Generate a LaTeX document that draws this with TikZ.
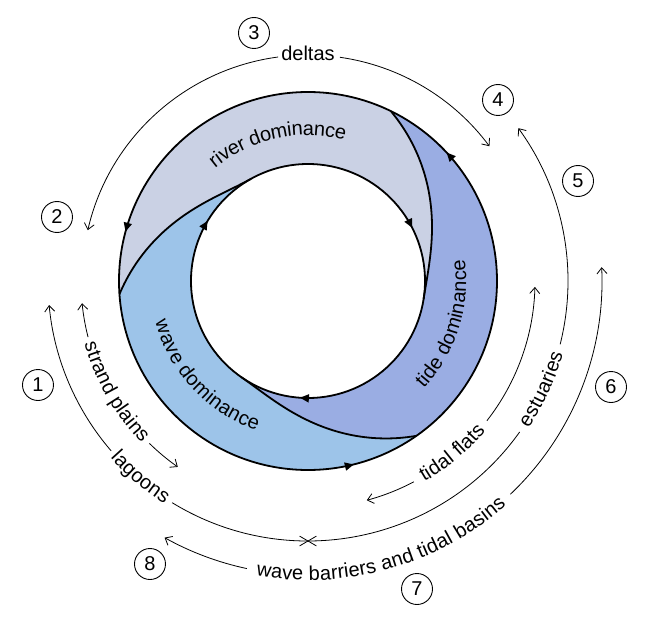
\documentclass[tikz,border=0pt]{standalone}
\usepackage{fontspec}
\setmainfont{Liberation Sans}
\usetikzlibrary{arrows.meta,decorations.text,decorations.markings,shapes.misc}
\definecolor{riverc}{HTML}{CAD1E4}
\definecolor{tidec}{HTML}{9AADE3}
\definecolor{wavec}{HTML}{9DC4E9}
\tikzset{
  ringline/.style={line width=1.8pt, line join=round},
  thinarc/.style={line width=0.8pt},
  barbend/.style={-{Straight Barb[length=6pt,width=10pt,line width=0.8pt]}},
  numcirc/.style={circle, draw, line width=0.9pt, minimum size=31pt, inner sep=0pt},
  ccwlabel/.style={decorate, decoration={text along path, text={#1}, text align=center, raise=-5.2pt}},
  fillarrow/.style={-{Triangle[length=9pt,width=8pt]}}
}
\begin{document}
\fontsize{20}{24}\selectfont
\begin{tikzpicture}[x=1pt,y=1pt]
\useasboundingbox (-308,-343) rectangle (342,281);
% ---------- filled regions ----------
\fill[riverc] (64:189) arc[start angle=64,end angle=184,radius=189]
  -- plot[variable=\t,domain=0:1,samples=60,smooth] ({184-65*\t}:{117+72*(1-\t)^2*(1+0.5*\t)})
  arc[start angle=119,end angle=-9,radius=117]
  -- plot[variable=\t,domain=0:1,samples=60,smooth] ({-9+73*\t}:{117+72*\t^2*(1.5-0.5*\t)})
  -- cycle;
\fill[tidec] (-55:189) arc[start angle=-55,end angle=64,radius=189]
  -- plot[variable=\t,domain=0:1,samples=60,smooth] ({64-73*\t}:{117+72*(1-\t)^2*(1+0.5*\t)})
  arc[start angle=-9,end angle=-125,radius=117]
  -- plot[variable=\t,domain=0:1,samples=60,smooth] ({235+70*\t}:{117+72*\t^2*(1.5-0.5*\t)})
  -- cycle;
\fill[wavec] (184:189) arc[start angle=184,end angle=305,radius=189]
  -- plot[variable=\t,domain=0:1,samples=60,smooth] ({305-70*\t}:{117+72*(1-\t)^2*(1+0.5*\t)})
  arc[start angle=235,end angle=119,radius=117]
  -- plot[variable=\t,domain=0:1,samples=60,smooth] ({119+65*\t}:{117+72*\t^2*(1.5-0.5*\t)})
  -- cycle;
% ---------- boundaries ----------
\draw[ringline] plot[variable=\t,domain=0:1,samples=60,smooth] ({184-65*\t}:{117+72*(1-\t)^2*(1+0.5*\t)});
\draw[ringline] plot[variable=\t,domain=0:1,samples=60,smooth] ({64-73*\t}:{117+72*(1-\t)^2*(1+0.5*\t)});
\draw[ringline] plot[variable=\t,domain=0:1,samples=60,smooth] ({305-70*\t}:{117+72*(1-\t)^2*(1+0.5*\t)});
% outer circle, counter-clockwise arrows
\draw[ringline, postaction={decorate}, decoration={markings,
   mark=at position 0.119 with {\arrow{Triangle[length=9pt,width=8pt]}},
   mark=at position 0.458 with {\arrow{Triangle[length=9pt,width=8pt]}},
   mark=at position 0.789 with {\arrow{Triangle[length=9pt,width=8pt]}}}]
  (0:189) arc[start angle=0,end angle=360,radius=189];
% inner circle, clockwise arrows
\draw[ringline, postaction={decorate}, decoration={markings,
   mark=at position 0.261 with {\arrow{Triangle[length=9pt,width=8pt]}},
   mark=at position 0.586 with {\arrow{Triangle[length=9pt,width=8pt]}},
   mark=at position 0.925 with {\arrow{Triangle[length=9pt,width=8pt]}}}]
  (360:117) arc[start angle=360,end angle=0,radius=117];
% ---------- ring labels ----------
\path[decorate, decoration={text along path, text={river dominance}, text align=center, raise=-5.2pt}]
  (138:151) arc[start angle=138,end angle=67,radius=151];
\path[ccwlabel={tide dominance}] (-50:153) arc[start angle=-50,end angle=15,radius=153];
\path[ccwlabel={wave dominance}] (190:153) arc[start angle=190,end angle=256,radius=153];
% ---------- outer arcs ----------
% deltas
\node[anchor=mid, inner sep=0pt] (deltas) at (90:226) {deltas};
\draw[thinarc,barbend] (97.6:226) arc[start angle=97.6,end angle=167,radius=226];
\draw[thinarc,barbend] (81.9:226) arc[start angle=81.9,end angle=36.6,radius=226];
% strand plains
\draw[thinarc,barbend] (194.3:227) arc[start angle=194.3,end angle=185.6,radius=227];
\path[ccwlabel={strand plains}] (190:227) arc[start angle=190,end angle=230,radius=227];
\draw[thinarc,barbend] (225.7:227) arc[start angle=225.7,end angle=235,radius=227];
% lagoons / estuaries
\draw[thinarc,barbend] (220.8:260) arc[start angle=220.8,end angle=185.3,radius=260];
\path[ccwlabel={lagoons}] (209.5:260) arc[start angle=209.5,end angle=249.5,radius=260];
\draw[thinarc] (238.5:260) arc[start angle=238.5,end angle=324.5,radius=260];
\path[ccwlabel={estuaries}] (320:260) arc[start angle=320,end angle=350.4,radius=260];
\draw[thinarc,barbend] (345.9:260) arc[start angle=345.9,end angle=396,radius=260];
\node[cross out, draw, line width=0.8pt, minimum width=16pt, minimum height=9pt, inner sep=0pt] (split) at (270:260) {};
% tidal flats
\draw[thinarc,barbend] (-62.2:227) arc[start angle=-62.2,end angle=-75,radius=227];
\path[ccwlabel={tidal flats}] (-70:227) arc[start angle=-70,end angle=-30,radius=227];
\draw[thinarc,barbend] (-38:227) arc[start angle=-38,end angle=-1.5,radius=227];
% wave barriers and tidal basins
\draw[thinarc,barbend] (258:294) arc[start angle=258,end angle=240.8,radius=294];
\path[ccwlabel={wave barriers and tidal basins}] (250:294) arc[start angle=250,end angle=321.5,radius=294];
\draw[thinarc,barbend] (313.5:294) arc[start angle=313.5,end angle=362.7,radius=294];
% ---------- numbers ----------
\node[numcirc] (c1) at (-270,-104) {1};
\node[numcirc] (c2) at (-251,64) {2};
\node[numcirc] (c3) at (-54,248) {3};
\node[numcirc] (c4) at (190,181) {4};
\node[numcirc] (c5) at (270,100) {5};
\node[numcirc] (c6) at (303,-106) {6};
\node[numcirc] (c7) at (109,-308) {7};
\node[numcirc] (c8) at (-158,-283) {8};
\end{tikzpicture}
\end{document}
